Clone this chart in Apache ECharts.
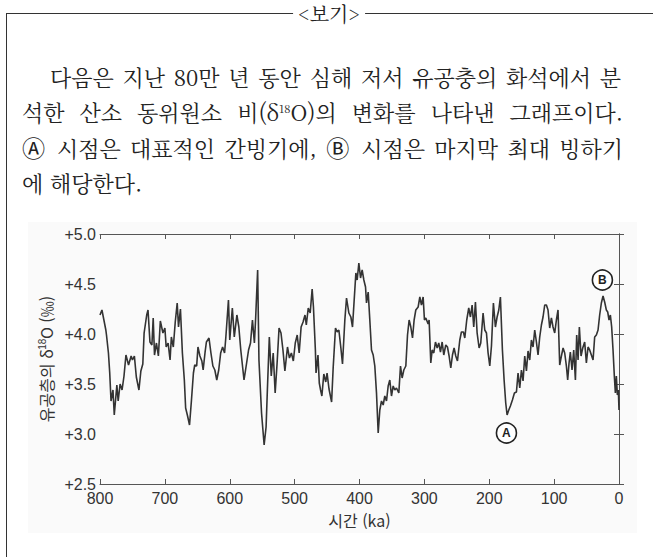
<!DOCTYPE html>
<html lang="ko">
<head>
<meta charset="utf-8">
<script src="https://cdn.jsdelivr.net/npm/echarts@6/dist/echarts.min.js"></script>
<style>
  html, body { margin: 0; padding: 0; background: #fff; }
  body { width: 653px; height: 557px; position: relative; overflow: hidden;
         font-family: "Noto Serif CJK KR", "Noto Sans CJK KR", sans-serif; color: #222; }
  .frame { position: absolute; left: 6px; top: 13px; width: 700px; height: 600px;
           border-left: 1.3px solid #333; border-top: 1.3px solid #333; }
  .head { position: absolute; left: 329px; top: 14px; transform: translate(-50%, -50%);
          background: #fff; padding: 0 5px; font-size: 20px; line-height: 20px; }
  .ln { position: absolute; font-size: 22px; line-height: 30px; white-space: nowrap; }
  .just { text-align: justify; text-align-last: justify; }
  .circ { font-family: "Noto Sans CJK KR", sans-serif; font-size: 1.05em; }
  sup { font-size: 0.5em; line-height: 0; vertical-align: 0.75em; }
  .bg { position: absolute; left: 28px; top: 222px; width: 609px; height: 311px; background: #fafafa; }
  #chart { position: absolute; left: 0; top: 0; width: 653px; height: 557px; }
</style>
</head>
<body>
<div class="frame"></div>
<div class="head">&lt;보기&gt;</div>
<div class="ln just" style="left:50px; top:62px; width:571px;">다음은 지난 80만 년 동안 심해 저서 유공충의 화석에서 분</div>
<div class="ln just" style="left:22px; top:97px; width:601px;">석한 산소 동위원소 비(δ<sup>18</sup>O)의 변화를 나타낸 그래프이다.</div>
<div class="ln just" style="left:22px; top:132px; width:601px;"><span class="circ">Ⓐ</span> 시점은 대표적인 간빙기에, <span class="circ">Ⓑ</span> 시점은 마지막 최대 빙하기</div>
<div class="ln" style="left:22px; top:168px;">에 해당한다.</div>
<div class="bg"></div>
<div id="chart"></div>
<script>
// time before present (ka) and foraminifera d18O (permil)
const ages = [
  800, 797, 794, 791, 790, 787, 785, 783, 780, 778, 774, 772, 769, 766, 763, 760,
  756, 752, 750, 747, 744, 740, 737, 734, 732, 728, 726, 723, 720, 718, 716, 713,
  710, 707, 703, 700, 698, 695, 692, 690, 687, 684, 681, 679, 676, 673, 670, 668,
  665, 662, 659, 656, 654, 651, 649, 646, 643, 641, 638, 636, 632, 629, 626, 623,
  620, 617, 614, 611, 608, 606, 602, 600, 596, 593, 589, 586, 583, 578, 574, 571,
  568, 565, 562, 560, 557, 555, 551, 547, 544, 542, 539, 536, 533, 530, 527, 524,
  521, 518, 515, 511, 508, 505, 502, 499, 496, 493, 490, 487, 484, 482, 479, 476,
  473, 471, 468, 467, 464, 462, 460, 458, 455, 452, 450, 447, 443, 440.6, 437, 434.4,
  431.8, 428.7, 426.2, 422.6, 420, 416.4, 413.3, 410.8, 408.2, 405.6, 403.6, 401, 398.4, 395.9, 393.3, 390.7,
  389.2, 386.6, 384.1, 381.5, 378.9, 376.4, 373.8, 371.2, 368.7, 366.1, 363.5, 361, 358.4, 355.8, 353.3, 350.7,
  348.1, 345.6, 343, 339.4, 336.8, 334.3, 331.7, 328.6, 326, 323.5, 320.9, 318.3, 315.8, 313.2, 309.6, 307,
  304.5, 301.9, 299.9, 297.8, 294.2, 292.7, 290.1, 288, 285.5, 282.9, 280.3, 277.8, 275.2, 272.6, 270.1, 267,
  264.4, 261.9, 259.3, 256.7, 254.2, 251.6, 249, 245.4, 242.9, 239.8, 237.7, 234.7, 231.6, 229, 226.4, 223.9,
  221.3, 218.7, 215.6, 213.1, 209.5, 206.9, 204.3, 201.8, 199.2, 196.6, 193.6, 190.5, 187.9, 185.3, 182.8, 179.7,
  177.1, 174.6, 172.5, 169.9, 167.4, 164.3, 161.2, 158.1, 155.6, 153, 150.4, 147.9, 145.3, 142.7, 140.2, 137.6,
  135, 132.5, 129.9, 127.3, 124.8, 122.2, 119.6, 117.1, 114.5, 111.9, 109.4, 106.8, 104.2, 101.7, 99.1, 96.5,
  94, 91.4, 88.8, 86.2, 83.7, 81.1, 79.1, 77, 75, 72.4, 69.8, 67.2, 65.2, 63.1, 61.1, 58.5,
  55.9, 52.9, 50.3, 47.7, 45.2, 42.6, 40, 37.5, 34.9, 32.3, 29.8, 27.2, 24.6, 22.1, 19.5, 17.4,
  15.4, 13.3, 11.3, 9.2, 7.2, 5.6, 4.1, 2.5, 1, 0
]
const d18O = [
  4.19, 4.24, 4.14, 4.04, 3.99, 3.81, 3.61, 3.33, 3.44, 3.19, 3.49, 3.33, 3.50, 3.44, 3.58, 3.79,
  3.69, 3.78, 3.74, 3.78, 3.57, 3.44, 3.63, 3.70, 4.01, 4.19, 4.24, 3.92, 3.89, 4.16, 3.79, 3.91,
  3.78, 4.13, 4.01, 4.06, 3.87, 3.91, 3.74, 3.97, 3.87, 4.12, 4.31, 4.07, 4.25, 3.81, 3.54, 3.26,
  3.18, 3.09, 3.34, 3.61, 3.69, 3.68, 3.87, 3.78, 3.73, 3.64, 3.82, 3.92, 3.96, 3.81, 3.68, 3.64,
  3.54, 3.64, 3.81, 3.87, 3.81, 3.97, 4.34, 3.94, 4.26, 3.97, 4.19, 4.07, 3.84, 3.54, 3.71, 3.84,
  3.91, 4.14, 3.91, 4.17, 4.64, 3.74, 3.21, 2.89, 3.07, 3.44, 3.97, 3.58, 3.81, 3.41, 3.71, 4.06,
  4.01, 3.84, 3.63, 3.87, 3.76, 3.81, 3.73, 3.91, 3.99, 3.81, 4.07, 4.12, 4.19, 4.09, 4.26, 4.21,
  4.45, 4.27, 3.84, 3.61, 3.79, 3.51, 3.44, 3.38, 3.60, 3.52, 3.61, 3.45, 3.32, 3.66, 4.06, 4.02,
  4.04, 3.86, 3.70, 4.14, 4.36, 4.21, 4.17, 4.07, 4.34, 4.61, 4.54, 4.71, 4.56, 4.64, 4.54, 4.47,
  4.31, 4.42, 4.14, 3.84, 3.79, 3.68, 3.41, 3.01, 3.24, 3.33, 3.29, 3.38, 3.33, 3.48, 3.54, 3.38,
  3.48, 3.44, 3.46, 3.41, 3.68, 3.56, 3.64, 3.68, 3.99, 4.14, 4.07, 3.96, 4.14, 4.24, 4.27, 4.37,
  4.29, 4.37, 4.14, 4.16, 4.10, 4.14, 3.71, 3.84, 3.81, 3.92, 3.86, 3.91, 3.82, 3.92, 3.79, 3.89,
  3.87, 3.78, 3.66, 3.79, 3.86, 3.78, 3.73, 3.94, 4.02, 4.02, 3.96, 4.14, 4.26, 4.17, 4.29, 4.07,
  4.32, 4.01, 3.86, 3.91, 4.21, 4.04, 4.01, 3.81, 3.68, 3.88, 4.31, 4.07, 4.17, 4.24, 4.37, 3.84,
  3.54, 3.31, 3.19, 3.24, 3.28, 3.34, 3.41, 3.42, 3.61, 3.46, 3.64, 3.53, 3.78, 3.63, 3.83, 3.74,
  3.94, 3.87, 4.04, 3.92, 3.79, 3.97, 4.09, 4.17, 4.29, 4.29, 4.24, 4.06, 4.16, 4.07, 4.01, 4.14,
  4.24, 3.69, 3.78, 3.86, 3.81, 3.68, 3.54, 3.71, 3.82, 3.64, 3.84, 3.54, 3.99, 3.74, 4.07, 3.78,
  3.86, 3.92, 3.71, 3.87, 3.84, 3.79, 3.74, 3.97, 3.99, 4.04, 4.19, 4.31, 4.38, 4.32, 4.24, 4.22,
  4.14, 4.19, 4.07, 3.84, 3.58, 3.41, 3.58, 3.39, 3.44, 3.24
]
// circled labels: [ka, d18O, letter]
const marks = [[173.5, 3.01, 'A'], [25.6, 4.54, 'B']]
const yTicks = [2.5, 3.0, 3.5, 4.0, 4.5, 5.0]

const fontLatin = '"Liberation Sans", Arial, sans-serif'
const fontKo = '"Noto Sans CJK KR", sans-serif'
const axisColor = '#555'
const textColor = '#333'

const chart = echarts.init(document.getElementById('chart'), null, { renderer: 'svg' })

const xBase = {
  type: 'value',
  min: 0,
  max: 800,
  interval: 100,
  inverse: true,
  axisLine: { lineStyle: { color: axisColor, width: 1 } },
  axisTick: { inside: true, length: 5, lineStyle: { color: axisColor } },
  splitLine: { show: false }
}
const yBase = {
  type: 'value',
  min: yTicks[0],
  max: yTicks[yTicks.length - 1],
  interval: 0.5,
  axisLine: { show: true, lineStyle: { color: axisColor, width: 1 } },
  axisTick: { show: true, inside: true, length: 5, lineStyle: { color: axisColor } },
  splitLine: { show: false }
}

chart.setOption({
  animation: false,
  grid: { left: 100, top: 234, width: 519, height: 250 },
  xAxis: [
    Object.assign({}, xBase, {
      position: 'bottom',
      axisLabel: { fontSize: 16, color: textColor, fontFamily: fontLatin, margin: 6 },
      name: '시간 (ka)',
      nameLocation: 'middle',
      nameGap: 28,
      nameTextStyle: { fontSize: 16, color: textColor, fontFamily: fontKo }
    }),
    Object.assign({}, xBase, { position: 'top', axisLabel: { show: false } })
  ],
  yAxis: [
    Object.assign({}, yBase, {
      position: 'left',
      axisLabel: {
        fontSize: 16, color: textColor, fontFamily: fontLatin, margin: 4,
        formatter: v => '+' + v.toFixed(1)
      },
      name: '{t|유공층의 δ}{s|18}{t|O (‰)}',
      nameLocation: 'middle',
      nameGap: 42,
      nameTextStyle: {
        rich: {
          t: { fontSize: 16, color: textColor, fontFamily: fontKo },
          s: { fontSize: 10, color: textColor, fontFamily: fontLatin, verticalAlign: 'top' }
        }
      }
    }),
    Object.assign({}, yBase, { position: 'right', axisLabel: { show: false } })
  ],
  series: [{
    type: 'line',
    xAxisIndex: 0,
    yAxisIndex: 0,
    showSymbol: false,
    lineStyle: { color: '#333', width: 1.6 },
    data: ages.map((a, i) => [a, d18O[i]]),
    markPoint: {
      symbol: 'circle',
      symbolSize: 20,
      itemStyle: { color: '#fff', borderColor: '#222', borderWidth: 1.6 },
      label: { show: true, position: 'inside', color: '#222', fontSize: 12, fontWeight: 'bold', fontFamily: fontLatin },
      data: marks.map(m => ({ coord: [m[0], m[1]], value: m[2] }))
    }
  }]
})
</script>
</body>
</html>
